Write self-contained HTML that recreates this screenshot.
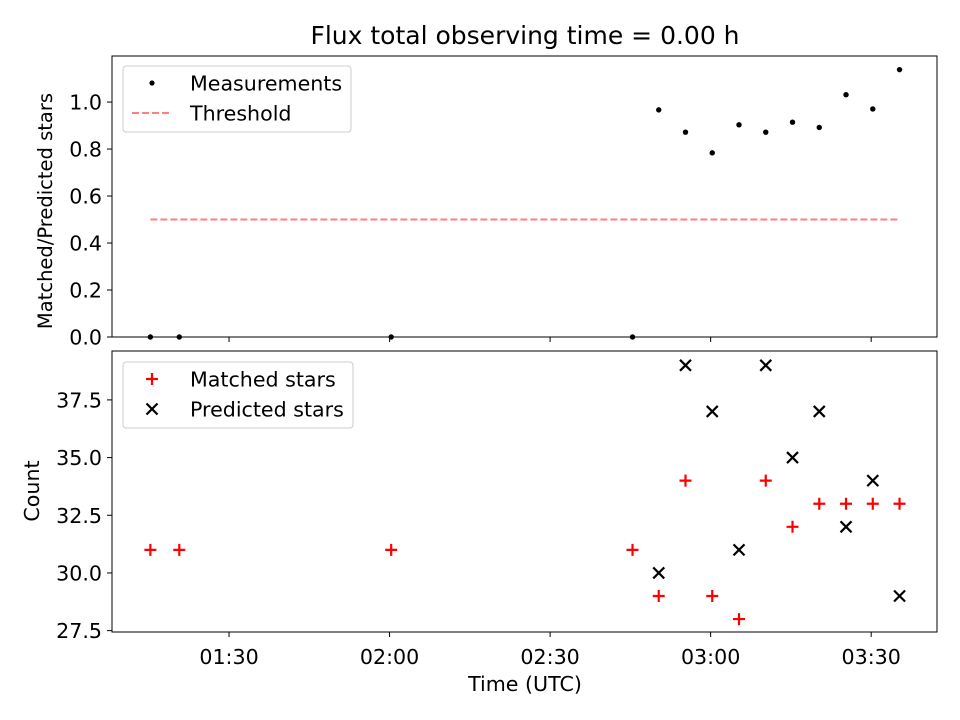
<!DOCTYPE html>
<html><head><meta charset="utf-8"><style>
html,body{margin:0;background:#fff;overflow:hidden;width:960px;height:720px}
svg{display:block;overflow:hidden;font-family:"DejaVu Sans","Liberation Sans",sans-serif}
</style></head><body>
<svg id="c" width="960" height="720" viewBox="0 0 960 720">
<text x="525" y="44" text-anchor="middle" font-size="25">Flux total observing time = 0.00 h</text>
<g id="topPanel"></g>
<g id="botPanel"></g>
<text x="525" y="691" text-anchor="middle" font-size="20.6">Time (UTC)</text>
<text transform="translate(52,211) rotate(-90)" text-anchor="middle" font-size="19.5">Matched/Predicted stars</text>
<text transform="translate(39,491) rotate(-90)" text-anchor="middle" font-size="20.6">Count</text>
</svg>
<script>
// times in minutes after 00:00 UTC
const times=[75.3,80.7,120.3,165.4,170.3,175.3,180.3,185.3,190.3,195.3,200.3,205.3,210.3,215.3];
const matched=[31,31,31,31,29,34,29,28,34,32,33,33,33,33];
const predicted=[0,0,0,0,30,39,37,31,39,35,37,32,34,29];
const threshold=0.5;
const xTickVals=[90,120,150,180,210];
const xTickLabels=["01:30","02:00","02:30","03:00","03:30"];
const topTicks=[0,0.2,0.4,0.6,0.8,1.0];
const botTicks=[27.5,30,32.5,35,37.5];

const NS="http://www.w3.org/2000/svg";
function mk(p,t,a,txt){const e=document.createElementNS(NS,t);for(const k in a)e.setAttribute(k,a[k]);if(txt!==undefined)e.textContent=txt;p.appendChild(e);return e;}
const L=112,R=937,xmin=68.13,xmax=222.3;
const FS=20.6;
const X=v=>L+(v-xmin)/(xmax-xmin)*(R-L);
function panel(g,T,B,ymin,ymax,ticks,fmt,showX){
  const Y=v=>B-(v-ymin)/(ymax-ymin)*(B-T);
  ticks.forEach(t=>{const y=Y(t);
    const l=mk(g,'line',{x1:L-5,x2:L,y1:y,y2:y,stroke:'#000','stroke-width':1});
    
    
    const tx=mk(g,'text',{x:L-10,y:y+7.5,'text-anchor':'end','font-size':FS},fmt(t));
    
    
  });
  xTickVals.forEach((v,i)=>{const x=X(v);
    const l=mk(g,'line',{x1:x,x2:x,y1:B,y2:B+5,stroke:'#000','stroke-width':1});
    
    
    if(showX){const tx=mk(g,'text',{x:x,y:B+32,'text-anchor':'middle','font-size':FS},xTickLabels[i]);
      
      }
  });
  return Y;
}
const topG=document.getElementById('topPanel'),botG=document.getElementById('botPanel');
// top panel
const Yt=panel(topG,56,337,0,1.196,topTicks,v=>v.toFixed(1),false);
const th=mk(topG,'line',{x1:X(times[0]),x2:X(times[times.length-1]),y1:Yt(threshold),y2:Yt(threshold),stroke:'#ff7f7f','stroke-width':2,'stroke-dasharray':'7,3'});


times.forEach((t,i)=>{const r=predicted[i]>0?matched[i]/predicted[i]:0;
  const c=mk(topG,'circle',{cx:X(t),cy:Yt(r),r:2.7,fill:'#000'});
  
  
});
mk(topG,'rect',{x:112,y:56,width:825,height:281,fill:'none',stroke:'#000','stroke-width':1});
// bottom panel
const ymin=27.44,ymax=39.62;
const Yb=panel(botG,351,632,ymin,ymax,botTicks,v=>v.toFixed(1),true);
const clip=mk(botG,'clipPath',{id:'cb'});mk(clip,'rect',{x:112,y:351,width:825,height:281});
const gb=mk(botG,'g',{'clip-path':'url(#cb)'});
times.forEach((t,i)=>{const x=X(t),y=Yb(matched[i]);
  const p=mk(gb,'path',{d:`M${x-6},${y}H${x+6}M${x},${y-6}V${y+6}`,stroke:'#f00','stroke-width':2.2,fill:'none'});
  
  
});
times.forEach((t,i)=>{const x=X(t),y=Yb(predicted[i]);
  const p=mk(gb,'path',{d:`M${x-5.5},${y-5.5}L${x+5.5},${y+5.5}M${x-5.5},${y+5.5}L${x+5.5},${y-5.5}`,stroke:'#000','stroke-width':2.2,fill:'none'});
  
  
});
mk(botG,'rect',{x:112,y:351,width:825,height:281,fill:'none',stroke:'#000','stroke-width':1});
// legends
function legend(g,x,y,w,h,items){
  const lg=mk(g,'g',{});
  
  
  mk(lg,'rect',{x:x,y:y,width:w,height:h,rx:3,fill:'#fff','fill-opacity':0.8,stroke:'#ccc'});
  items.forEach((it,i)=>{const cy=y+17+i*30,cx=x+29;
    if(it.k==='dot')mk(lg,'circle',{cx:cx,cy:cy,r:2.6,fill:'#000'});
    if(it.k==='dash')mk(lg,'line',{x1:x+9,x2:x+49,y1:cy,y2:cy,stroke:'#ff7f7f','stroke-width':2,'stroke-dasharray':'7,3'});
    if(it.k==='plus')mk(lg,'path',{d:`M${cx-6},${cy}H${cx+6}M${cx},${cy-6}V${cy+6}`,stroke:'#f00','stroke-width':2.2});
    if(it.k==='x')mk(lg,'path',{d:`M${cx-5.5},${cy-5.5}L${cx+5.5},${cy+5.5}M${cx-5.5},${cy+5.5}L${cx+5.5},${cy-5.5}`,stroke:'#000','stroke-width':2.2});
    const t=mk(lg,'text',{x:x+67,y:cy+7.5,'font-size':FS},it.t);
    
    
  });
}
legend(topG,123,66,228,66,[{k:'dot',t:'Measurements'},{k:'dash',t:'Threshold'}]);
legend(botG,123,362,230,66,[{k:'plus',t:'Matched stars'},{k:'x',t:'Predicted stars'}]);
</script>
</body></html>
